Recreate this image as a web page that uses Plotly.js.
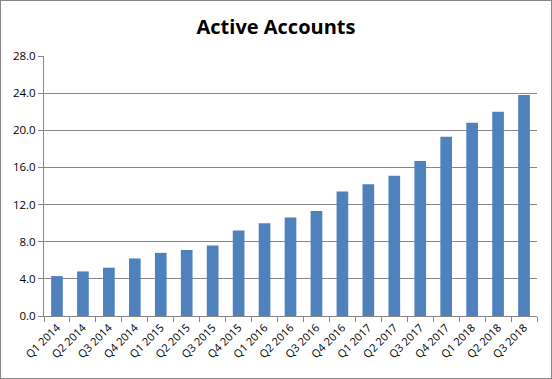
<!DOCTYPE html>
<html>
<head>
<meta charset="utf-8">
<script src="https://cdn.plot.ly/plotly-3.0.1.min.js"></script>
<style>
html,body{margin:0;padding:0;background:#fff;}
#chart{width:552px;height:379px;box-sizing:border-box;border:1px solid #868686;}
</style>
</head>
<body>
<div id="chart"></div>
<script>
const quarters = ["Q1 2014","Q2 2014","Q3 2014","Q4 2014","Q1 2015","Q2 2015","Q3 2015","Q4 2015","Q1 2016","Q2 2016","Q3 2016","Q4 2016","Q1 2017","Q2 2017","Q3 2017","Q4 2017","Q1 2018","Q2 2018","Q3 2018"];
const activeAccounts = [4.3,4.8,5.2,6.2,6.8,7.1,7.6,9.2,10.0,10.6,11.3,13.4,14.2,15.1,16.7,19.3,20.8,22.0,23.8];
const yTicks = [0,4,8,12,16,20,24,28];

const trace = {
  type: "bar",
  x: quarters,
  y: activeAccounts,
  marker: {color: "#4F81BD"},
  hoverinfo: "x+y"
};
const layout = {
  width: 550, height: 377,
  margin: {l: 43, r: 14, t: 55, b: 62},
  paper_bgcolor: "#fff", plot_bgcolor: "#fff",
  bargap: 0.55,
  showlegend: false,
  font: {family: "Open Sans, DejaVu Sans, sans-serif", color: "#000", size: 11},
  title: {text: "<b>Active Accounts</b>", x: 0.5, xanchor: "center", y: 0.93, yanchor: "middle",
          font: {family: "Open Sans, DejaVu Sans, sans-serif", size: 20, color: "#000"}},
  xaxis: {
    type: "category",
    tickangle: -45,
    ticks: "outside", ticklen: 5, tickcolor: "#868686",
    tickson: "boundaries",
    showline: true, linecolor: "#868686", linewidth: 1,
    showgrid: false,
    tickfont: {size: 11}
  },
  yaxis: {
    range: [0, 28],
    tickvals: yTicks,
    tickformat: ".1f",
    ticks: "outside", ticklen: 5, tickcolor: "#868686",
    showline: true, linecolor: "#868686", linewidth: 1,
    showgrid: true, gridcolor: "#868686", gridwidth: 1,
    zeroline: false,
    tickfont: {size: 11.5}
  }
};
Plotly.newPlot("chart", [trace], layout, {displayModeBar: false, staticPlot: true});
</script>
</body>
</html>
